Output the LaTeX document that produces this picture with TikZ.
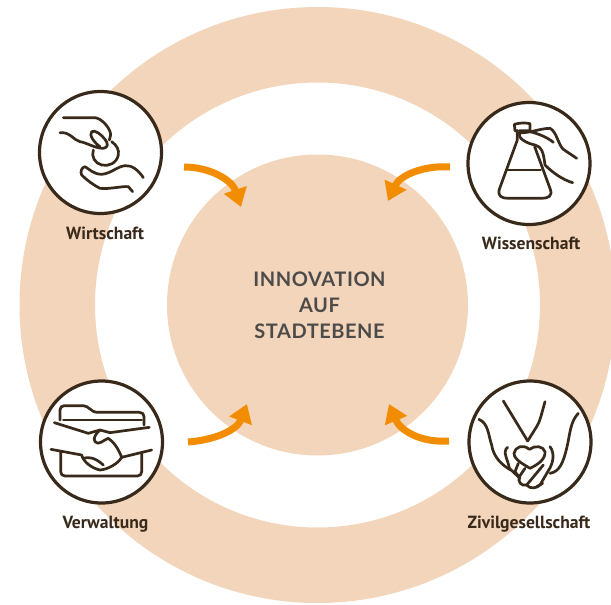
\documentclass[tikz,border=0pt]{standalone}
\usepackage{fontspec}
\usetikzlibrary{arrows.meta}
\newfontfamily\labelfont{PT Sans}
\newfontfamily\titlefont[LetterSpace=2.8]{Lato}
\definecolor{ringtan}{HTML}{F2D5BA}
\definecolor{inkbrown}{HTML}{38291A}
\definecolor{flowora}{HTML}{F28C00}
\definecolor{titlegray}{HTML}{4D4B4A}
\tikzset{
  disc/.style={circle,fill=ringtan,minimum size=301pt,inner sep=0pt},
  headline/.style={align=center,text=titlegray,inner sep=0pt,
    font=\titlefont\bfseries\fontsize{20}{26}\selectfont},
  badge/.style={circle,draw=inkbrown,line width=3.2pt,fill=white,minimum size=122pt,inner sep=0pt},
  caption/.style={anchor=base,text=inkbrown,inner sep=0pt,font=\labelfont\bfseries\fontsize{17.6}{19}\selectfont},
  flow/.style={draw=flowora,line width=7pt,-{Triangle[length=18pt,width=23pt]}},
  icon/.style={draw=inkbrown,line width=2.7pt,line cap=round,line join=round}
}
\begin{document}
\begin{tikzpicture}[x=1pt,y=-1pt]
    \useasboundingbox (0,0) rectangle (611,605);
    \begin{scope}
      \clip (0,0) rectangle (611,605);
      \fill[ringtan,even odd rule] (317.5,305) circle[radius=298pt] (317.5,305) circle[radius=222.5pt];
    \end{scope}
    \node[disc] (stadt) at (317.5,305) {};
    \node[headline] (stadtlbl) at (319.5,305) {INNOVATION\\AUF\\STADTEBENE};
    \node[badge] (wirtschaft) at (100.5,152.5) {};
    \node[badge] (wissen) at (529,163.5) {};
    \node[badge] (verwaltung) at (101.5,442) {};
    \node[badge] (zivil) at (530,442) {};
    \node[caption] (wirtschaftlbl) at (105,239) {Wirtschaft};
    \node[caption] (wissenlbl) at (531,249) {Wissenschaft};
    \node[caption] (verwaltunglbl) at (105.5,528) {Verwaltung};
    \node[caption] (zivillbl) at (529,528) {Zivilgesellschaft};
    \coordinate (wirtschaftout) at (184,167);
    \coordinate (wirtschaftin) at (241,207);
    \coordinate (wissenout) at (450,167);
    \coordinate (wissenin) at (388,201);
    \coordinate (verwaltungout) at (188,442);
    \coordinate (verwaltungin) at (247,404);
    \coordinate (zivilout) at (449,441);
    \coordinate (zivilin) at (389,404);
    \draw[flow] (wirtschaftout) .. controls (210,167) and (232,180) .. (wirtschaftin);
    \draw[flow] (wissenout) .. controls (425,165) and (400,175) .. (wissenin);
    \draw[flow] (verwaltungout) .. controls (215,440) and (237,430) .. (verwaltungin);
    \draw[flow] (zivilout) .. controls (420,443) and (400,430) .. (zivilin);
    \begin{scope}[shift={(20,80)},x=1/3*1pt,y=-1/3*1pt]
      \draw[icon] (130,113) -- (225,113) .. controls (245,115) and (272,145) .. (272,165) -- (268,180);
      \draw[icon] (120,158) .. controls (150,155) and (160,180) .. (180,185) .. controls (200,188) and (225,205) .. (250,205) .. controls (265,203) and (265,190) .. (255,178) .. controls (245,165) and (225,148) .. (215,155) .. controls (205,165) and (225,190) .. (240,200);
      \draw[icon] (275,185) .. controls (290,195) and (298,210) .. (295,225) .. controls (290,250) and (265,260) .. (245,255) .. controls (225,250) and (213,230) .. (220,210);
      \draw[icon] (370,293) .. controls (355,270) and (335,255) .. (315,257) .. controls (290,260) and (275,280) .. (245,283) .. controls (220,283) and (205,265) .. (195,260) .. controls (185,262) and (180,275) .. (185,285) .. controls (200,300) and (220,315) .. (240,325) .. controls (270,328) and (305,318) .. (325,320) -- (338,335);
    \end{scope}
    \begin{scope}[shift={(380,90)},x=1/3*1pt,y=-1/3*1pt]
      \draw[icon] (412,122) -- (405,122) -- (403,103) .. controls (420,98) and (435,98) .. (450,101) -- (450,122) -- (418,122);
      \draw[icon] (412,122) -- (412,150) -- (358,298) .. controls (352,318) and (365,325) .. (385,325) -- (485,325) .. controls (505,325) and (518,318) .. (511,298) -- (464,170);
      \draw[icon] (383,240) -- (482,240);
      \draw[icon] (418,128) .. controls (450,130) and (480,115) .. (510,115) .. controls (530,125) and (535,165) .. (550,178) -- (590,205);
      \draw[icon] (450,125) .. controls (470,130) and (500,140) .. (520,157);
      \draw[icon] (418,128) .. controls (412,145) and (440,160) .. (465,165) .. controls (485,170) and (490,185) .. (495,225) .. controls (520,250) and (550,270) .. (578,278);
    \end{scope}
    \begin{scope}[shift={(20,370)},x=1/3*1pt,y=-1/3*1pt]
      \draw[icon] (120,150) -- (120,120) .. controls (120,112) and (125,107) .. (133,107) -- (190,107) .. controls (205,107) and (215,127) .. (230,127) -- (358,127) .. controls (367,127) and (372,132) .. (372,140) -- (372,165);
      \draw[icon] (130,150) -- (365,150);
      \draw[icon] (103,158) -- (205,190) -- (240,180) -- (270,188) -- (388,172);
      \draw[icon] (240,180) .. controls (228,190) and (218,205) .. (225,215) .. controls (235,228) and (250,210) .. (265,205) .. controls (280,215) and (295,235) .. (305,262) -- (395,240);
      \draw[icon] (93,238) -- (185,255) .. controls (190,275) and (215,295) .. (240,300) .. controls (265,298) and (295,280) .. (305,262);
      \draw[icon] (190,265) .. controls (205,260) and (225,262) .. (250,285);
      \draw[icon] (122,245) -- (122,305) .. controls (122,313) and (127,318) .. (135,318) -- (352,318) .. controls (360,318) and (365,313) .. (365,305) -- (365,250);
    \end{scope}
    \begin{scope}[shift={(380,370)},x=1/3*1pt,y=-1/3*1pt]
      \draw[icon] (370,93) -- (443,213);
      \draw[icon] (495,95) .. controls (485,130) and (480,155) .. (470,170) -- (443,213);
      \draw[icon] (448,238) .. controls (430,222) and (405,230) .. (402,250) .. controls (402,270) and (435,285) .. (450,295) .. controls (470,285) and (497,270) .. (495,245) .. controls (490,228) and (465,225) .. (448,238);
      \draw[icon] (297,148) .. controls (325,160) and (325,195) .. (335,225) .. controls (340,260) and (365,285) .. (392,300);
      \draw[icon] (383,232) .. controls (365,245) and (385,270) .. (388,295) -- (420,325);
      \draw[icon] (595,130) .. controls (570,155) and (570,195) .. (560,235) .. controls (550,275) and (540,305) .. (510,310);
      \draw[icon] (510,230) .. controls (525,250) and (520,280) .. (505,302);
      \draw[icon] (415,280) -- (405,305) -- (420,325);
      \draw[icon] (435,295) -- (418,320) .. controls (412,335) and (425,350) .. (440,345) -- (490,285);
      \draw[icon] (440,345) .. controls (450,358) and (470,355) .. (480,345) -- (505,302);
      \draw[icon] (470,350) -- (488,340);
    \end{scope}
  \end{tikzpicture}
\end{document}
